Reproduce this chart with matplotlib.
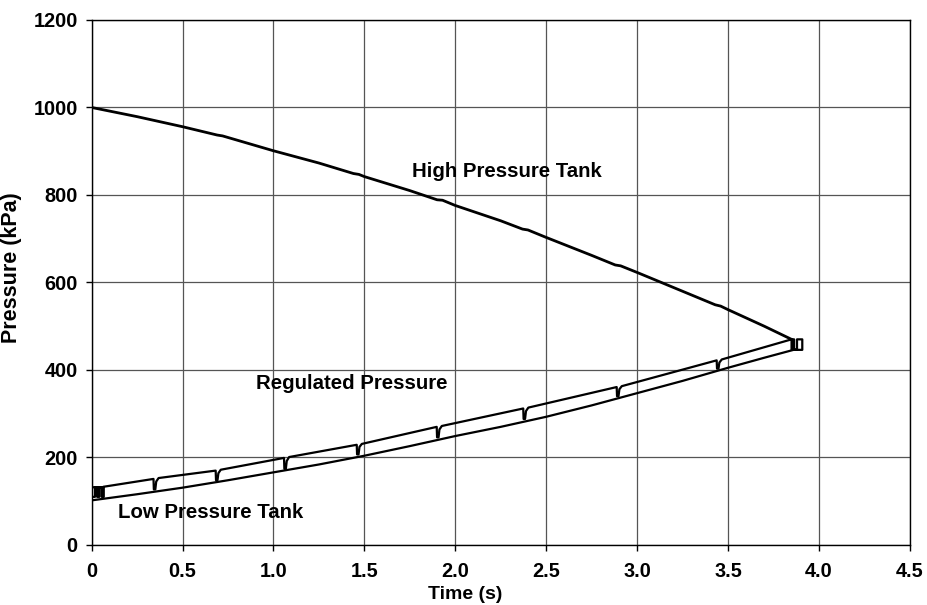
import matplotlib
matplotlib.use("Agg")
import matplotlib.pyplot as plt

plt.rcParams['font.family'] = ['Liberation Sans', 'DejaVu Sans']
plt.rcParams['font.weight'] = 'bold'

# high pressure tank (small flats where the valve opens)
hp_t = [0, 0.25, 0.5, 0.69, 0.72, 1.0, 1.25, 1.44, 1.47, 1.5, 1.75, 1.9, 1.93,
        2.0, 2.25, 2.37, 2.40, 2.5, 2.75, 2.88, 2.91, 3.0, 3.25, 3.43, 3.46,
        3.5, 3.7, 3.85]
hp_p = [1000, 979, 956, 937, 935, 901, 873, 849, 847, 842, 810, 789, 788,
        776, 741, 722, 720, 703, 662, 640, 638, 623, 580, 549, 546,
        538, 500, 470]

# low pressure tank
lp_t = [0, 0.25, 0.5, 0.75, 1.0, 1.25, 1.5, 1.75, 2.0, 2.25, 2.5, 2.75,
        3.0, 3.25, 3.5, 3.7, 3.87]
lp_p = [102, 116, 131, 148, 166, 184, 204, 226, 249, 270, 293, 319,
        347, 375, 405, 428, 447]

# regulated pressure with the dips
rp_t = [0.064, 0.064, 0, 0, 0.018, 0.018, 0.03, 0.03, 0.042, 0.042, 0.055, 0.055,
        0.064, 0.064,
        0.34, 0.342, 0.35, 0.355, 0.368,
        0.682, 0.684, 0.692, 0.697, 0.71,
        1.058, 1.060, 1.068, 1.073, 1.086,
        1.458, 1.460, 1.468, 1.473, 1.486,
        1.898, 1.900, 1.908, 1.913, 1.926,
        2.374, 2.376, 2.384, 2.389, 2.402,
        2.888, 2.890, 2.898, 2.903, 2.916,
        3.438, 3.440, 3.448, 3.453, 3.466,
        3.85, 3.85, 3.857, 3.857, 3.864, 3.864, 3.88, 3.88, 3.909, 3.909, 3.88]
rp_p = [110, 132, 132, 110, 110, 132, 132, 110, 110, 132, 132, 110,
        110, 133,
        151, 127, 127, 145, 153,
        170, 148, 148, 164, 172,
        199, 174, 174, 192, 201,
        229, 207, 207, 224, 231,
        270, 246, 246, 264, 272,
        312, 288, 288, 306, 314,
        361, 340, 340, 356, 363,
        422, 403, 403, 417, 424,
        470, 446, 446, 470, 470, 446, 446, 470, 470, 446, 446]

fig = plt.figure(figsize=(9.28, 6.05), dpi=100)
ax = fig.add_axes([0.0988, 0.0992, 0.8815, 0.8678])

ax.plot(hp_t, hp_p, color='black', lw=2.0)
ax.plot(lp_t, lp_p, color='black', lw=1.6)
ax.plot(rp_t, rp_p, color='black', lw=1.6)

ax.set_xlim(0, 4.5)
ax.set_ylim(0, 1200)
ax.set_xticks([0, 0.5, 1.0, 1.5, 2.0, 2.5, 3.0, 3.5, 4.0, 4.5])
ax.set_xticklabels(['0', '0.5', '1.0', '1.5', '2.0', '2.5', '3.0', '3.5', '4.0', '4.5'])
ax.set_yticks(range(0, 1201, 200))
ax.grid(True, color='#555555', lw=0.9)
ax.set_axisbelow(True)
for s in ax.spines.values():
    s.set_color('black')
    s.set_linewidth(1.0)
ax.tick_params(direction='out', length=4, width=1, labelsize=14.3)
ax.tick_params(axis='x', pad=8)
ax.tick_params(axis='y', pad=6)

ax.set_xlabel('Time (s)', fontsize=14, fontweight='bold', labelpad=2)
ax.xaxis.set_label_coords(0.456, -0.078)
ax.set_ylabel('Pressure (kPa)', fontsize=15.5, fontweight='bold', labelpad=8)
ax.yaxis.set_label_coords(-0.085, 0.528)

ax.text(1.76, 853, 'High Pressure Tank', fontsize=14.7, fontweight='bold', va='center')
ax.text(0.905, 370, 'Regulated Pressure', fontsize=14.7, fontweight='bold', va='center')
ax.text(0.145, 75, 'Low Pressure Tank', fontsize=14.7, fontweight='bold', va='center')

fig.savefig('out.png', dpi=100)
